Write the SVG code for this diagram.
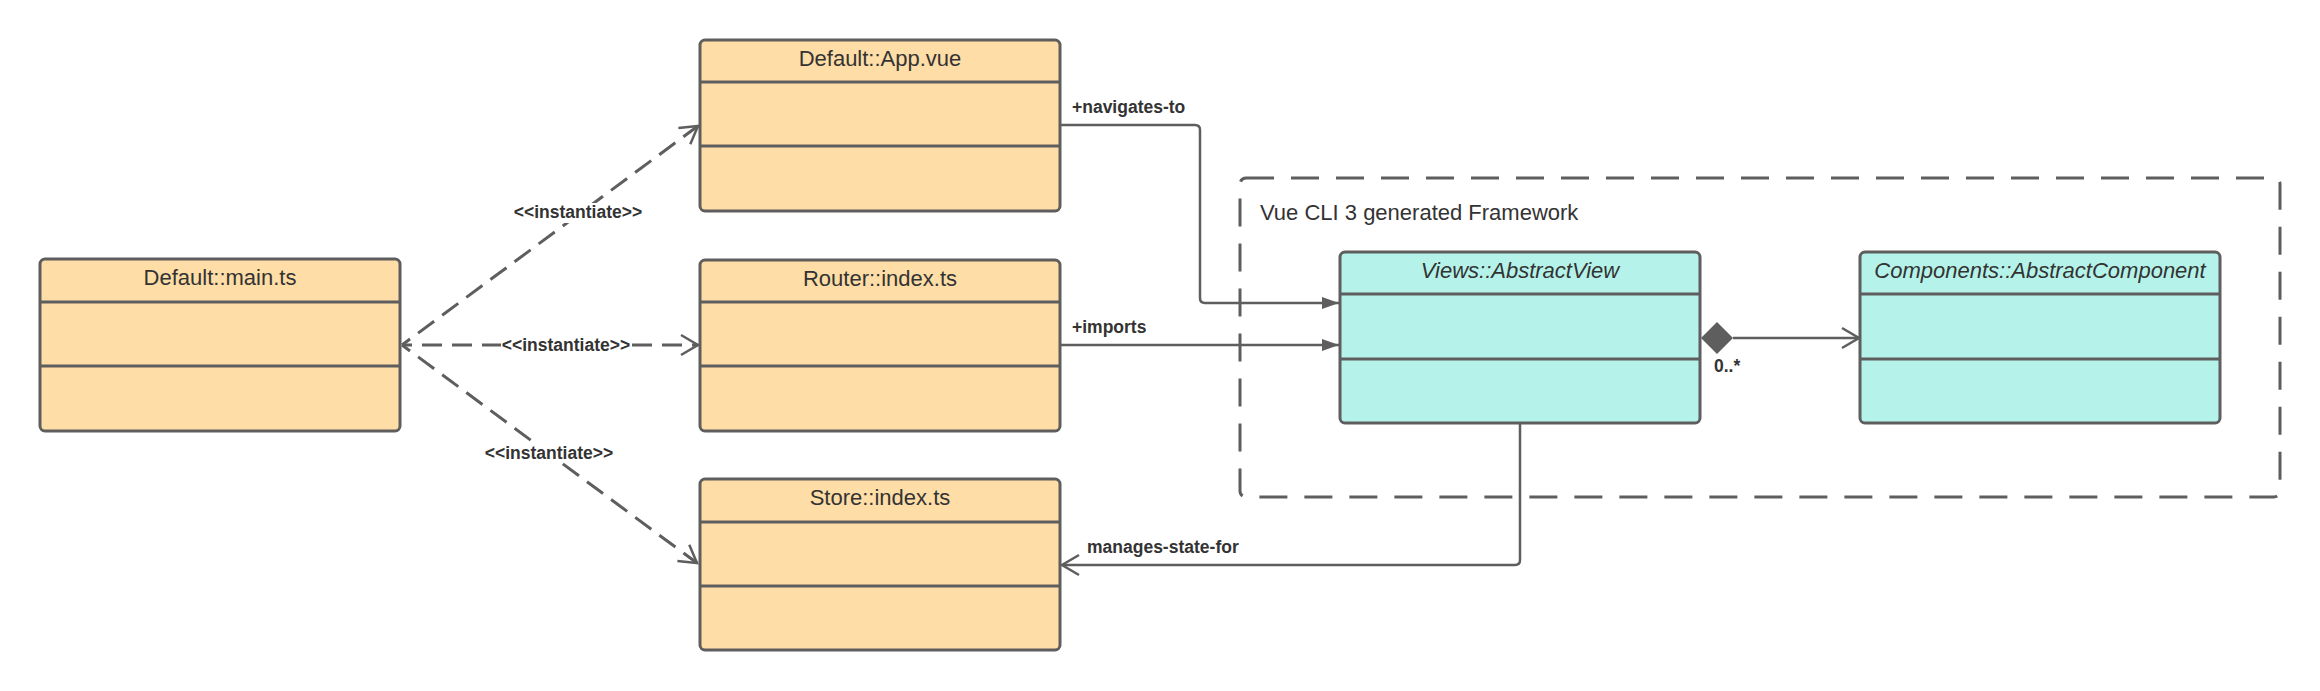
<svg xmlns="http://www.w3.org/2000/svg" width="2320" height="691" viewBox="0 0 2320 691">
<style>
.box{stroke:#5E5E5E;stroke-width:3}
.orange{fill:#FEDDA6}
.teal{fill:#B5F3EA}
.div{stroke:#5E5E5E;stroke-width:3}
.title{font-family:"Liberation Sans",Arial,sans-serif;font-size:22px;fill:#333333;text-anchor:middle}
.ital{font-style:italic}
.lbl{font-family:"Liberation Sans",Arial,sans-serif;font-size:17.5px;font-weight:bold;fill:#333333}
.conn{fill:none;stroke:#5E5E5E;stroke-width:2.5}
.dash{stroke-width:3;stroke-dasharray:20 10;stroke-dashoffset:10}
.grp{fill:none;stroke:#5E5E5E;stroke-width:3;stroke-dasharray:28 17}
.grptxt{font-family:"Liberation Sans",Arial,sans-serif;font-size:22px;fill:#333333}
</style>
<defs>
<marker id="open" markerUnits="userSpaceOnUse" markerWidth="22" markerHeight="24" viewBox="0 0 22 24" refX="19" refY="12" orient="auto">
<path d="M2,2 L19,12 L2,22" fill="none" stroke="#5E5E5E" stroke-width="2.5" stroke-dasharray="none"/>
</marker>
<marker id="tri" markerUnits="userSpaceOnUse" markerWidth="18" markerHeight="14" viewBox="0 0 18 14" refX="17" refY="7" orient="auto">
<path d="M0,1 L17,7 L0,13 Z" fill="#5E5E5E" stroke="none"/>
</marker>
</defs>
<rect width="2320" height="691" fill="#FFFFFF"/>

<g id="group-framework">
<rect class="grp" x="1240" y="178" width="1040" height="319" rx="6"/>
<text class="grptxt" x="1260" y="220">Vue CLI 3 generated Framework</text>
</g>

<g id="connectors">
<path class="conn dash" d="M402,345 L698,126" marker-end="url(#open)"/>
<path class="conn dash" d="M402,345 L698,345" marker-end="url(#open)"/>
<path class="conn dash" d="M402,345 L697,563" marker-end="url(#open)"/>
<path class="conn" d="M1060,125 L1195,125 Q1200,125 1200,130 L1200,298 Q1200,303 1205,303 L1339,303" marker-end="url(#tri)"/>
<path class="conn" d="M1060,345 L1339,345" marker-end="url(#tri)"/>
<path class="conn" d="M1733,338 L1859,338" marker-end="url(#open)"/>
<polygon points="1701,338 1717,322 1733,338 1717,354" fill="#5E5E5E"/>
<path class="conn" d="M1520,424 L1520,560 Q1520,565 1515,565 L1062,565" marker-end="url(#open)"/>
<rect x="513" y="203" width="130" height="20" fill="#FFFFFF"/>
<text class="lbl" x="578" y="218" text-anchor="middle">&lt;&lt;instantiate&gt;&gt;</text>
<rect x="501" y="335" width="130" height="20" fill="#FFFFFF"/>
<text class="lbl" x="566" y="351" text-anchor="middle">&lt;&lt;instantiate&gt;&gt;</text>
<rect x="484" y="443" width="130" height="20" fill="#FFFFFF"/>
<text class="lbl" x="549" y="459" text-anchor="middle">&lt;&lt;instantiate&gt;&gt;</text>
<text class="lbl" x="1072" y="113">+navigates-to</text>
<text class="lbl" x="1072" y="333">+imports</text>
<text class="lbl" x="1087" y="553">manages-state-for</text>
<text class="lbl" x="1714" y="372">0..*</text>
</g>

<g id="node-main">
<rect class="box orange" x="40" y="259" width="360" height="172" rx="5"/>
<line class="div" x1="40" y1="302" x2="400" y2="302"/>
<line class="div" x1="40" y1="366" x2="400" y2="366"/>
<text class="title" x="220" y="285">Default::main.ts</text>
</g>

<g id="node-app">
<rect class="box orange" x="700" y="40" width="360" height="171" rx="5"/>
<line class="div" x1="700" y1="82" x2="1060" y2="82"/>
<line class="div" x1="700" y1="146" x2="1060" y2="146"/>
<text class="title" x="880" y="66">Default::App.vue</text>
</g>

<g id="node-router">
<rect class="box orange" x="700" y="260" width="360" height="171" rx="5"/>
<line class="div" x1="700" y1="302" x2="1060" y2="302"/>
<line class="div" x1="700" y1="366" x2="1060" y2="366"/>
<text class="title" x="880" y="286">Router::index.ts</text>
</g>

<g id="node-store">
<rect class="box orange" x="700" y="479" width="360" height="171" rx="5"/>
<line class="div" x1="700" y1="522" x2="1060" y2="522"/>
<line class="div" x1="700" y1="586" x2="1060" y2="586"/>
<text class="title" x="880" y="505">Store::index.ts</text>
</g>

<g id="node-views">
<rect class="box teal" x="1340" y="252" width="360" height="171" rx="5"/>
<line class="div" x1="1340" y1="294" x2="1700" y2="294"/>
<line class="div" x1="1340" y1="359" x2="1700" y2="359"/>
<text class="title ital" x="1520" y="278">Views::AbstractView</text>
</g>

<g id="node-components">
<rect class="box teal" x="1860" y="252" width="360" height="171" rx="5"/>
<line class="div" x1="1860" y1="294" x2="2220" y2="294"/>
<line class="div" x1="1860" y1="359" x2="2220" y2="359"/>
<text class="title ital" x="2040" y="278">Components::AbstractComponent</text>
</g>
</svg>
